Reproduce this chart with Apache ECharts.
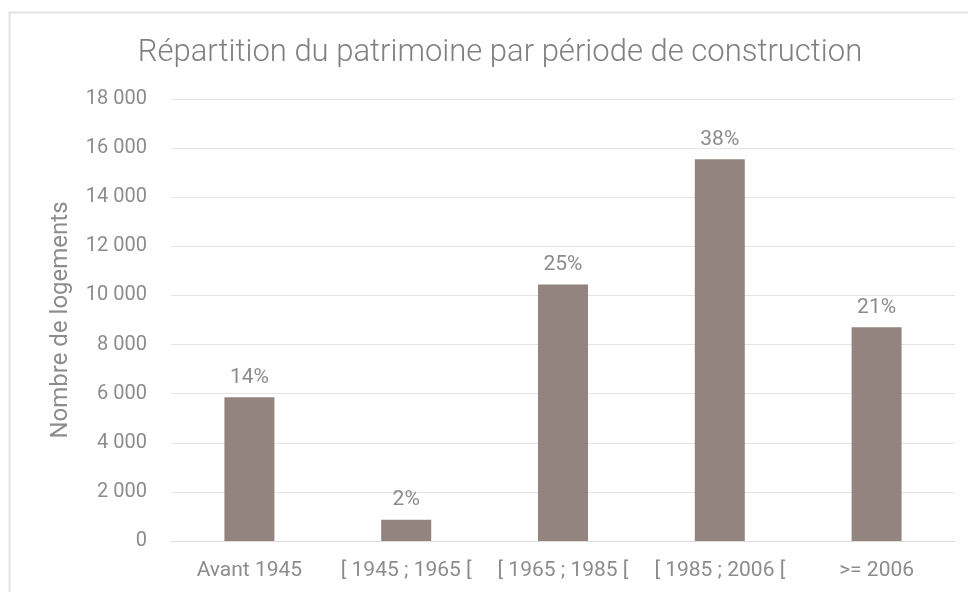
<!DOCTYPE html>
<html lang="fr">
  <head>
    <meta charset="UTF-8" />
    <title>Répartition du patrimoine</title>
    <style>
      * {
        margin: 0;
        padding: 0;
      }
      body {
        background: #fff;
      }
      #chart {
        width: 968px;
        height: 592px;
      }
    </style>
    <script src="https://cdn.jsdelivr.net/npm/echarts@6/dist/echarts.min.js"></script>
  </head>
  <body>
    <div id="chart"></div>
    <script>
      // données
      const categories = [
        "Avant 1945",
        "[ 1945 ; 1965 [",
        "[ 1965 ; 1985 [",
        "[ 1985 ; 2006 [",
        ">= 2006",
      ];
      const logements = [5850, 870, 10450, 15550, 8700];
      const pctLabels = ["14%", "2%", "25%", "38%", "21%"];

      const grey = "#8c8c8c";
      const font = "Roboto";

      const chart = echarts.init(document.getElementById("chart"));

      chart.setOption({
        animation: false,
        textStyle: { fontFamily: font },
        title: {
          text: "Répartition du patrimoine par période de construction",
          left: 495,
          top: 33,
          textAlign: "center",
          textStyle: {
            color: "#808080",
            fontSize: 31,
            fontWeight: 300,
            fontFamily: font,
          },
        },
        graphic: [
          {
            type: "rect",
            shape: { x: 9.5, y: 12.5, width: 1000, height: 700 },
            style: { fill: "none", stroke: "#e3e3e3", lineWidth: 2 },
            silent: true,
          },
        ],
        grid: { left: 171, right: 13, top: 99, bottom: 51 },
        xAxis: {
          type: "category",
          data: categories,
          axisLine: { lineStyle: { color: "#dcdcdc" } },
          axisTick: { show: false },
          axisLabel: {
            color: grey,
            fontSize: 21,
            margin: 19,
            interval: 0,
          },
        },
        yAxis: {
          type: "value",
          min: 0,
          max: 18000,
          interval: 2000,
          name: "Nombre de logements",
          nameLocation: "middle",
          nameGap: 98,
          nameTextStyle: { color: grey, fontSize: 24 },
          axisLine: { show: false },
          axisTick: { show: false },
          splitLine: { lineStyle: { color: "#e4e4e4" } },
          axisLabel: {
            color: grey,
            fontSize: 20,
            margin: 24,
            formatter: (v) =>
              String(v).replace(/\B(?=(\d{3})+(?!\d))/g, " "),
          },
        },
        series: [
          {
            type: "bar",
            data: logements,
            barWidth: 50,
            itemStyle: { color: "#94847f" },
            label: {
              show: true,
              position: "top",
              distance: 9,
              color: grey,
              fontSize: 21,
              formatter: (p) => pctLabels[p.dataIndex],
            },
          },
        ],
      });
    </script>
  </body>
</html>
